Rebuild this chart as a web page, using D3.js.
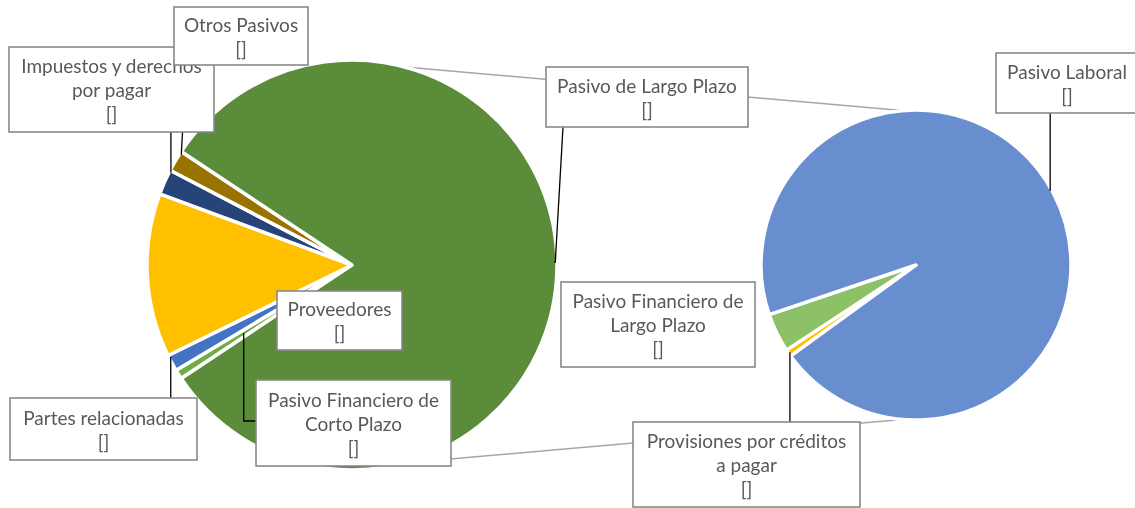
<!DOCTYPE html>
<html><head><meta charset="utf-8">
<script src="https://cdn.jsdelivr.net/npm/d3@7"></script>
<style>html,body{margin:0;padding:0;background:#fff;} svg{display:block;} .lbl{will-change:transform;}</style>
</head><body><svg id="chart" width="1135" height="508"></svg>
<script>
// ---------------- DATA ----------------
// Primary pie slices, in clockwise order after the "other" slice
const primaryCategories = ["Pasivo Financiero de Corto Plazo", "Partes relacionadas", "Proveedores", "Impuestos y derechos por pagar", "Otros Pasivos"];
const primaryValues = [0.75, 1.31, 12.92, 2.00, 1.69];
const primaryColors = ["#70AD47", "#4472C4", "#FFC000", "#264478", "#997300"];
// "Other" slice of the primary pie (sum of the secondary pie)
const otherCategory = "Pasivo de Largo Plazo";
const otherColor = "#5B8C3A";
// Secondary pie slices, clockwise
const secondaryCategories = ["Provisiones por créditos a pagar", "Pasivo Financiero de Largo Plazo", "Pasivo Laboral"];
const secondaryValues = [0.61, 3.30, 77.43];
const secondaryColors = ["#FFC000", "#8CC168", "#698ED0"];
// Data label value text (as shown in the source)
const dataLabelValue = "[]";

// ---------------- LAYOUT ----------------
const leftPie = {cx: 352, cy: 265, r: 205};
const rightPie = {cx: 916, cy: 265, r: 155};
const secondaryStartDeg = 234;
const sliceGap = 3.5;
const fontFamily = "Lato, 'Open Sans', sans-serif";
const fontSize = 19;
const lineStep = 24;
const textColor = "#595959";

// label boxes: [x, y, w, h]; leader: attach t (fraction of slice angle), rf (fraction of radius), path tail points
const labelLayout = [
  {name: "Impuestos y derechos por pagar", lines: ["Impuestos y derechos", "por pagar", dataLabelValue], box: [9, 47, 205, 85], leader: {t: 0.93, rf: 1, tail: a => [[a[0], 132]]}},
  {name: "Otros Pasivos", lines: ["Otros Pasivos", dataLabelValue], box: [174, 7, 134, 58], leader: {t: 0.88, rf: 1, tail: a => [[182.5, 132]]}},
  {name: "Pasivo de Largo Plazo", lines: ["Pasivo de Largo Plazo", dataLabelValue], box: [546, 67, 202, 60], leader: {t: 0.498, rf: 1, tail: a => [[563, 127]]}},
  {name: "Pasivo Laboral", lines: ["Pasivo Laboral", dataLabelValue], box: [996, 53, 142, 60], leader: {t: 0.4955, rf: 1, tail: a => [[a[0], 113]]}},
  {name: "Proveedores", lines: ["Proveedores", dataLabelValue], box: [277, 291, 125, 59], leader: null},
  {name: "Pasivo Financiero de Largo Plazo", lines: ["Pasivo Financiero de", "Largo Plazo", dataLabelValue], box: [561, 282, 194, 85], leader: null},
  {name: "Partes relacionadas", lines: ["Partes relacionadas", dataLabelValue], box: [10, 398, 187, 62], leader: {t: 0.85, rf: 1, tail: a => [[a[0], 398]]}},
  {name: "Pasivo Financiero de Corto Plazo", lines: ["Pasivo Financiero de", "Corto Plazo", dataLabelValue], box: [256, 380, 195, 86], leader: {t: 0.5, rf: 0.63, tail: a => [[a[0], 421], [256, 421]]}},
  {name: "Provisiones por créditos a pagar", lines: ["Provisiones por créditos", "a pagar", dataLabelValue], box: [633, 422, 227, 85], leader: {t: 0.5, rf: 1, tail: a => [[a[0], 422]]}}
];

// ---------------- BUILD ----------------
const svg = d3.select("#chart");
const otherValue = d3.sum(secondaryValues);
const total = d3.sum(primaryValues) + otherValue;
const otherSpan = otherValue / total * 2 * Math.PI;
const primaryStart = Math.PI / 2 + otherSpan / 2;

const primaryData = primaryCategories.map((c, i) => ({name: c, value: primaryValues[i], color: primaryColors[i]}))
  .concat([{name: otherCategory, value: otherValue, color: otherColor}]);
const secondaryData = secondaryCategories.map((c, i) => ({name: c, value: secondaryValues[i], color: secondaryColors[i]}));

const pieL = d3.pie().sort(null).value(d => d.value).startAngle(primaryStart).endAngle(primaryStart + 2 * Math.PI);
const secStart = secondaryStartDeg * Math.PI / 180;
const pieR = d3.pie().sort(null).value(d => d.value).startAngle(secStart).endAngle(secStart + 2 * Math.PI);
const arcsL = pieL(primaryData);
const arcsR = pieR(secondaryData);

// connector lines: common external tangents of the two circles
(function () {
  const c1 = leftPie, c2 = rightPie;
  const d = c2.cx - c1.cx;
  const alpha = Math.asin((c1.r - c2.r) / d);
  [-1, 1].forEach(s => {
    const ang = s * (Math.PI / 2 + alpha);
    const p1 = [c1.cx + c1.r * Math.cos(ang), c1.cy - c1.r * Math.sin(ang)];
    const p2 = [c2.cx + c2.r * Math.cos(ang), c2.cy - c2.r * Math.sin(ang)];
    svg.append("line").attr("x1", p1[0]).attr("y1", p1[1]).attr("x2", p2[0]).attr("y2", p2[1])
      .attr("stroke", "#A6A6A6").attr("stroke-width", 1.5);
  });
})();

function drawPie(arcs, P) {
  const arc = d3.arc().innerRadius(0).outerRadius(P.r);
  svg.append("g").attr("transform", `translate(${P.cx},${P.cy})`)
    .selectAll("path").data(arcs).join("path")
    .attr("d", arc).attr("fill", d => d.data.color)
    .attr("stroke", "#fff").attr("stroke-width", sliceGap).attr("stroke-linejoin", "round");
}
drawPie(arcsL, leftPie);
drawPie(arcsR, rightPie);

function findArc(name) {
  let a = arcsL.find(d => d.data.name === name);
  if (a) return {a, P: leftPie};
  a = arcsR.find(d => d.data.name === name);
  return {a, P: rightPie};
}

// leader lines
labelLayout.forEach(L => {
  if (!L.leader) return;
  const {a, P} = findArc(L.name);
  const ang = a.startAngle + (a.endAngle - a.startAngle) * L.leader.t;
  const rr = (P.r - sliceGap / 2) * L.leader.rf;
  const pt = [P.cx + rr * Math.sin(ang), P.cy - rr * Math.cos(ang)];
  const pts = [pt].concat(L.leader.tail(pt));
  svg.append("path").attr("d", d3.line()(pts)).attr("fill", "none")
    .attr("stroke", "#000").attr("stroke-width", 1.3);
});

// label boxes
labelLayout.forEach(L => {
  const [x, y, w, h] = L.box;
  const g = svg.append("g");
  g.append("rect").attr("x", x).attr("y", y).attr("width", w).attr("height", h)
    .attr("fill", "#fff").attr("stroke", "#898989").attr("stroke-width", 1.6);
  const n = L.lines.length;
  const tg = g.append("g").attr("class", "lbl").attr("opacity", 0.999);
  L.lines.forEach((t, i) => {
    tg.append("text").attr("x", x + w / 2).attr("y", y + h / 2 + (i - (n - 1) / 2) * lineStep)
      .attr("text-anchor", "middle").attr("dominant-baseline", "central")
      .attr("font-family", fontFamily).attr("font-size", fontSize).attr("fill", textColor)
      .text(t);
  });
});
</script>
</body></html>
